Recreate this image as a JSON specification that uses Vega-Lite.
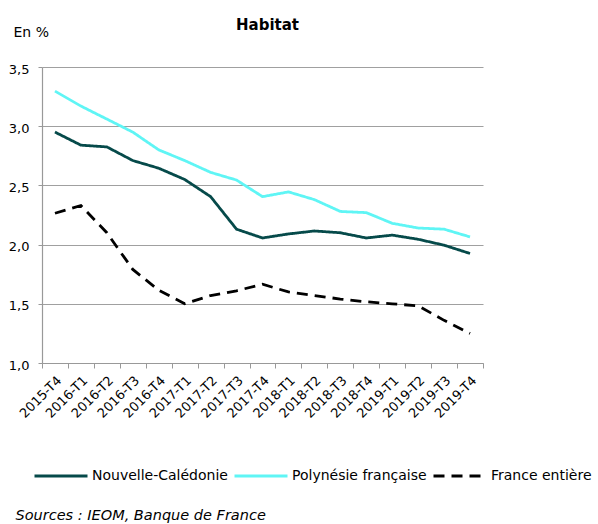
{
  "$schema": "https://vega.github.io/schema/vega-lite/v6.json",
  "autosize": {"type": "none"},
  "width": 441,
  "height": 296,
  "padding": {"left": 42, "top": 67, "right": 115, "bottom": 161},
  "background": "white",
  "title": {"text": "Habitat", "anchor": "middle", "frame": "group", "dx": 5, "offset": -8, "fontSize": 15, "fontWeight": "bold", "font": "DejaVu Sans", "color": "#000000"},
  "data": {"values": [
    {"q": "2015-T4", "s": "Nouvelle-Calédonie", "v": 2.95},
    {"q": "2016-T1", "s": "Nouvelle-Calédonie", "v": 2.84},
    {"q": "2016-T2", "s": "Nouvelle-Calédonie", "v": 2.825},
    {"q": "2016-T3", "s": "Nouvelle-Calédonie", "v": 2.71},
    {"q": "2016-T4", "s": "Nouvelle-Calédonie", "v": 2.645},
    {"q": "2017-T1", "s": "Nouvelle-Calédonie", "v": 2.55},
    {"q": "2017-T2", "s": "Nouvelle-Calédonie", "v": 2.405},
    {"q": "2017-T3", "s": "Nouvelle-Calédonie", "v": 2.13},
    {"q": "2017-T4", "s": "Nouvelle-Calédonie", "v": 2.056},
    {"q": "2018-T1", "s": "Nouvelle-Calédonie", "v": 2.09},
    {"q": "2018-T2", "s": "Nouvelle-Calédonie", "v": 2.115},
    {"q": "2018-T3", "s": "Nouvelle-Calédonie", "v": 2.10},
    {"q": "2018-T4", "s": "Nouvelle-Calédonie", "v": 2.056},
    {"q": "2019-T1", "s": "Nouvelle-Calédonie", "v": 2.08},
    {"q": "2019-T2", "s": "Nouvelle-Calédonie", "v": 2.045},
    {"q": "2019-T3", "s": "Nouvelle-Calédonie", "v": 1.995},
    {"q": "2019-T4", "s": "Nouvelle-Calédonie", "v": 1.925},
    {"q": "2015-T4", "s": "Polynésie française", "v": 3.296},
    {"q": "2016-T1", "s": "Polynésie française", "v": 3.17},
    {"q": "2016-T2", "s": "Polynésie française", "v": 3.06},
    {"q": "2016-T3", "s": "Polynésie française", "v": 2.95},
    {"q": "2016-T4", "s": "Polynésie française", "v": 2.80},
    {"q": "2017-T1", "s": "Polynésie française", "v": 2.71},
    {"q": "2017-T2", "s": "Polynésie française", "v": 2.61},
    {"q": "2017-T3", "s": "Polynésie française", "v": 2.545},
    {"q": "2017-T4", "s": "Polynésie française", "v": 2.405},
    {"q": "2018-T1", "s": "Polynésie française", "v": 2.445},
    {"q": "2018-T2", "s": "Polynésie française", "v": 2.38},
    {"q": "2018-T3", "s": "Polynésie française", "v": 2.28},
    {"q": "2018-T4", "s": "Polynésie française", "v": 2.27},
    {"q": "2019-T1", "s": "Polynésie française", "v": 2.18},
    {"q": "2019-T2", "s": "Polynésie française", "v": 2.14},
    {"q": "2019-T3", "s": "Polynésie française", "v": 2.13},
    {"q": "2019-T4", "s": "Polynésie française", "v": 2.065},
    {"q": "2015-T4", "s": "France entière", "v": 2.265},
    {"q": "2016-T1", "s": "France entière", "v": 2.33},
    {"q": "2016-T2", "s": "France entière", "v": 2.10},
    {"q": "2016-T3", "s": "France entière", "v": 1.79},
    {"q": "2016-T4", "s": "France entière", "v": 1.615},
    {"q": "2017-T1", "s": "France entière", "v": 1.50},
    {"q": "2017-T2", "s": "France entière", "v": 1.57},
    {"q": "2017-T3", "s": "France entière", "v": 1.61},
    {"q": "2017-T4", "s": "France entière", "v": 1.665},
    {"q": "2018-T1", "s": "France entière", "v": 1.60},
    {"q": "2018-T2", "s": "France entière", "v": 1.57},
    {"q": "2018-T3", "s": "France entière", "v": 1.54},
    {"q": "2018-T4", "s": "France entière", "v": 1.517},
    {"q": "2019-T1", "s": "France entière", "v": 1.50},
    {"q": "2019-T2", "s": "France entière", "v": 1.483},
    {"q": "2019-T3", "s": "France entière", "v": 1.36},
    {"q": "2019-T4", "s": "France entière", "v": 1.25}
  ]},
  "mark": {"type": "line", "strokeWidth": 2.8, "strokeCap": "butt"},
  "encoding": {
    "x": {
      "field": "q", "type": "nominal", "sort": null,
      "scale": {"type": "band", "paddingInner": 0, "paddingOuter": 0},
      "bandPosition": 0.5,
      "axis": {
        "title": "Sources : IEOM, Banque de France",
        "titleX": -27, "titleY": 152, "titleAlign": "left", "titleBaseline": "middle", "titleAngle": 0,
        "titleFontStyle": "italic", "titleFontWeight": "normal", "titleFontSize": 14.5, "titleFont": "DejaVu Sans", "titleColor": "#000000",
        "tickBand": "extent", "ticks": true, "tickSize": 5, "tickColor": "#999999", "tickWidth": 1,
        "domainColor": "#999999", "domainWidth": 1.2,
        "labelAngle": -45, "labelAlign": "right", "labelBaseline": "middle", "labelPadding": 10, "labelOffset": 4,
        "labelFont": "DejaVu Sans", "labelFontSize": 13, "labelColor": "#000000", "grid": false
      }
    },
    "y": {
      "field": "v", "type": "quantitative",
      "scale": {"domain": [1, 3.5], "nice": false, "zero": false},
      "axis": {
        "values": [1, 1.5, 2, 2.5, 3, 3.5],
        "labelExpr": "replace(format(datum.value, '.1f'), '.', ',')",
        "title": "En %", "titleAngle": 0, "titleX": -29, "titleY": -35, "titleAlign": "left", "titleBaseline": "middle",
        "titleFontWeight": "normal", "titleFontSize": 14, "titleFont": "DejaVu Sans", "titleColor": "#000000",
        "grid": true, "gridColor": "#a0a0a0", "gridWidth": 1.2,
        "domainColor": "#999999", "domainWidth": 1.2,
        "tickSize": 4, "tickColor": "#999999", "labelPadding": 9,
        "labelFont": "DejaVu Sans", "labelFontSize": 13, "labelColor": "#000000", "labelBaseline": "middle", "labelOffset": 2
      }
    },
    "color": {
      "field": "s", "type": "nominal",
      "scale": {"domain": ["Nouvelle-Calédonie", "Polynésie française", "France entière"], "range": ["#064a4a", "#5ff5f5", "#000000"]},
      "legend": {
        "title": null, "orient": "none", "direction": "horizontal", "legendX": -9, "legendY": 381,
        "symbolType": "stroke", "symbolSize": 2809, "symbolStrokeWidth": 3,
        "labelFont": "DejaVu Sans", "labelFontSize": 14, "labelColor": "#000000",
        "labelOffset": 3, "columnPadding": 0, "labelLimit": 300
      }
    },
    "strokeDash": {
      "field": "s", "type": "nominal",
      "scale": {"domain": ["Nouvelle-Calédonie", "Polynésie française", "France entière"], "range": [[1, 0], [1, 0], [11, 7]]},
      "legend": {
        "title": null, "orient": "none", "direction": "horizontal", "legendX": -9, "legendY": 381,
        "symbolType": "stroke", "symbolSize": 2809, "symbolStrokeWidth": 3,
        "labelFont": "DejaVu Sans", "labelFontSize": 14, "labelColor": "#000000",
        "labelOffset": 3, "columnPadding": 0, "labelLimit": 300
      }
    }
  },
  "config": {"view": {"stroke": null}}
}
